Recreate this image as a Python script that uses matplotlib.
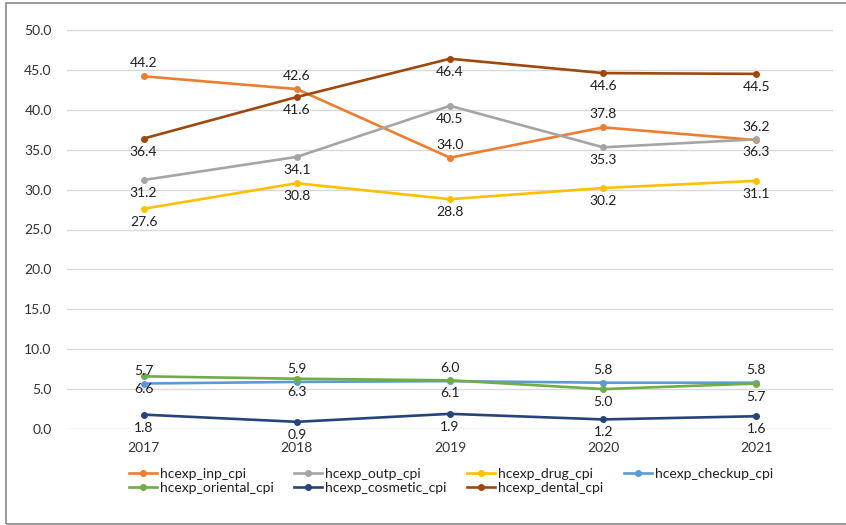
import matplotlib
matplotlib.use("Agg")
import matplotlib.pyplot as plt
from matplotlib.patches import Rectangle

years = ["2017", "2018", "2019", "2020", "2021"]

inp_cpi = [44.2, 42.6, 34.0, 37.8, 36.2]
outp_cpi = [31.2, 34.1, 40.5, 35.3, 36.3]
drug_cpi = [27.6, 30.8, 28.8, 30.2, 31.1]
checkup_cpi = [5.7, 5.9, 6.0, 5.8, 5.8]
oriental_cpi = [6.6, 6.3, 6.1, 5.0, 5.7]
cosmetic_cpi = [1.8, 0.9, 1.9, 1.2, 1.6]
dental_cpi = [36.4, 41.6, 46.4, 44.6, 44.5]

y_ticks = [0, 5, 10, 15, 20, 25, 30, 35, 40, 45, 50]

# (name, values, colour, label side: +1 above, -1 below)
series = [
    ("hcexp_inp_cpi", inp_cpi, "#ED7D31", 1),
    ("hcexp_outp_cpi", outp_cpi, "#A5A5A5", -1),
    ("hcexp_drug_cpi", drug_cpi, "#FFC000", -1),
    ("hcexp_checkup_cpi", checkup_cpi, "#5B9BD5", 1),
    ("hcexp_oriental_cpi", oriental_cpi, "#70AD47", -1),
    ("hcexp_cosmetic_cpi", cosmetic_cpi, "#264478", -1),
    ("hcexp_dental_cpi", dental_cpi, "#9E480E", -1),
]

plt.rcParams["font.family"] = ["Lato", "DejaVu Sans"]
label_color = "#1f1f1f"
tick_color = "#333333"
fs = 10

fig = plt.figure(figsize=(8.46, 5.25), dpi=100)
ax = fig.add_axes([67 / 846, 1 - 429 / 525, 766 / 846, 399 / 525])

x = list(range(len(years)))
handles = {}
for name, vals, color, side in series:
    (ln,) = ax.plot(x, vals, color=color, lw=1.9, marker="o", ms=4,
                    label=name, zorder=3, solid_joinstyle="round")
    handles[name] = ln
    for xi, v in zip(x, vals):
        ax.annotate(f"{v:.1f}", (xi, v), xytext=(0, 13 * side),
                    textcoords="offset pixels",
                    ha="center", va="center", fontsize=fs, color=label_color,
                    zorder=4)

ax.set_xlim(-0.5, len(years) - 0.5)
ax.set_ylim(0, 50)
ax.set_yticks(y_ticks)
ax.set_yticklabels([f"{t:.1f}" for t in y_ticks])
ax.set_xticks(x)
ax.set_xticklabels(years)
ax.tick_params(axis="both", length=0, labelsize=fs, colors=tick_color)
ax.tick_params(axis="y", pad=11)
ax.tick_params(axis="x", pad=9)
ax.yaxis.grid(True, color="#D9D9D9", lw=1)
ax.set_axisbelow(True)
for s in ax.spines.values():
    s.set_visible(False)

order = ["hcexp_inp_cpi", "hcexp_oriental_cpi", "hcexp_outp_cpi",
         "hcexp_cosmetic_cpi", "hcexp_drug_cpi", "hcexp_dental_cpi",
         "hcexp_checkup_cpi"]
leg = fig.legend([handles[n] for n in order], order, ncol=4,
                 loc="center", bbox_to_anchor=(451 / 846, 1 - 481 / 525),
                 frameon=False, fontsize=fs, handlelength=2.0,
                 handletextpad=0.2, columnspacing=1.5, labelspacing=0.15,
                 labelcolor=label_color)

fig.patches.append(Rectangle((5.5 / 846, 1.5 / 525), 2.0, 521 / 525,
                             transform=fig.transFigure, fill=False,
                             edgecolor="#898989", lw=1.2))

fig.savefig("out.png", dpi=100)
